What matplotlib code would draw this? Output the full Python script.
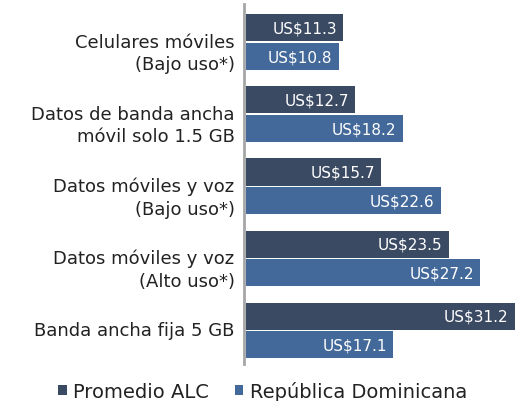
import matplotlib
matplotlib.use("Agg")
import matplotlib.pyplot as plt
import numpy as np

categories = [
    "Celulares móviles\n(Bajo uso*)",
    "Datos de banda ancha\nmóvil solo 1.5 GB",
    "Datos móviles y voz\n(Bajo uso*)",
    "Datos móviles y voz\n(Alto uso*)",
    "Banda ancha fija 5 GB",
]
promedio_alc = [11.3, 12.7, 15.7, 23.5, 31.2]
republica_dominicana = [10.8, 18.2, 22.6, 27.2, 17.1]
series_names = ["Promedio ALC", "República Dominicana"]

dark = "#3b4a63"
blue = "#43699a"
text_color = "#222222"

plt.rcParams["font.family"] = ["DejaVu Sans"]

fig = plt.figure(figsize=(5.15, 4.02), dpi=100)
ax = fig.add_axes([244 / 515, 1 - 365 / 402, 1 - 244 / 515, 360 / 402])

y = np.arange(len(categories))
h = 0.375
off = 0.199
b1 = ax.barh(y - off, promedio_alc, height=h, color=dark, label=series_names[0])
b2 = ax.barh(y + off, republica_dominicana, height=h, color=blue, label=series_names[1])

for bars, vals in ((b1, promedio_alc), (b2, republica_dominicana)):
    for rect, v in zip(bars, vals):
        ax.text(v - 0.75, rect.get_y() + rect.get_height() / 2, f"US${v}",
                ha="right", va="center", color="white", fontsize=11)

ax.set_xlim(-0.2, 31.2)
ax.set_ylim(len(categories) - 1 + 0.465, -0.53)
ax.set_xticks([])
ax.set_yticks([])

# category labels, right-aligned just left of the axis line
for yi, lab in zip(y, categories):
    ax.text(-1.3, yi + (0.15 if "\n" in lab else 0.0), lab, ha="right", va="center",
            fontsize=13, color=text_color, linespacing=1.3)

for s in ("top", "right", "bottom"):
    ax.spines[s].set_visible(False)
ax.spines["left"].set_color("#a6a6a6")
ax.spines["left"].set_linewidth(2)
ax.spines["left"].set_position(("data", -0.2))

leg = fig.legend(handles=[b1, b2], labels=series_names, loc="center",
                 bbox_to_anchor=(0.51, 1 - 392 / 402), ncol=2, frameon=False,
                 fontsize=14, handlelength=0.45, handleheight=0.45,
                 handletextpad=0.35, columnspacing=1.3, labelcolor=text_color)

fig.savefig("out.png", dpi=100)
